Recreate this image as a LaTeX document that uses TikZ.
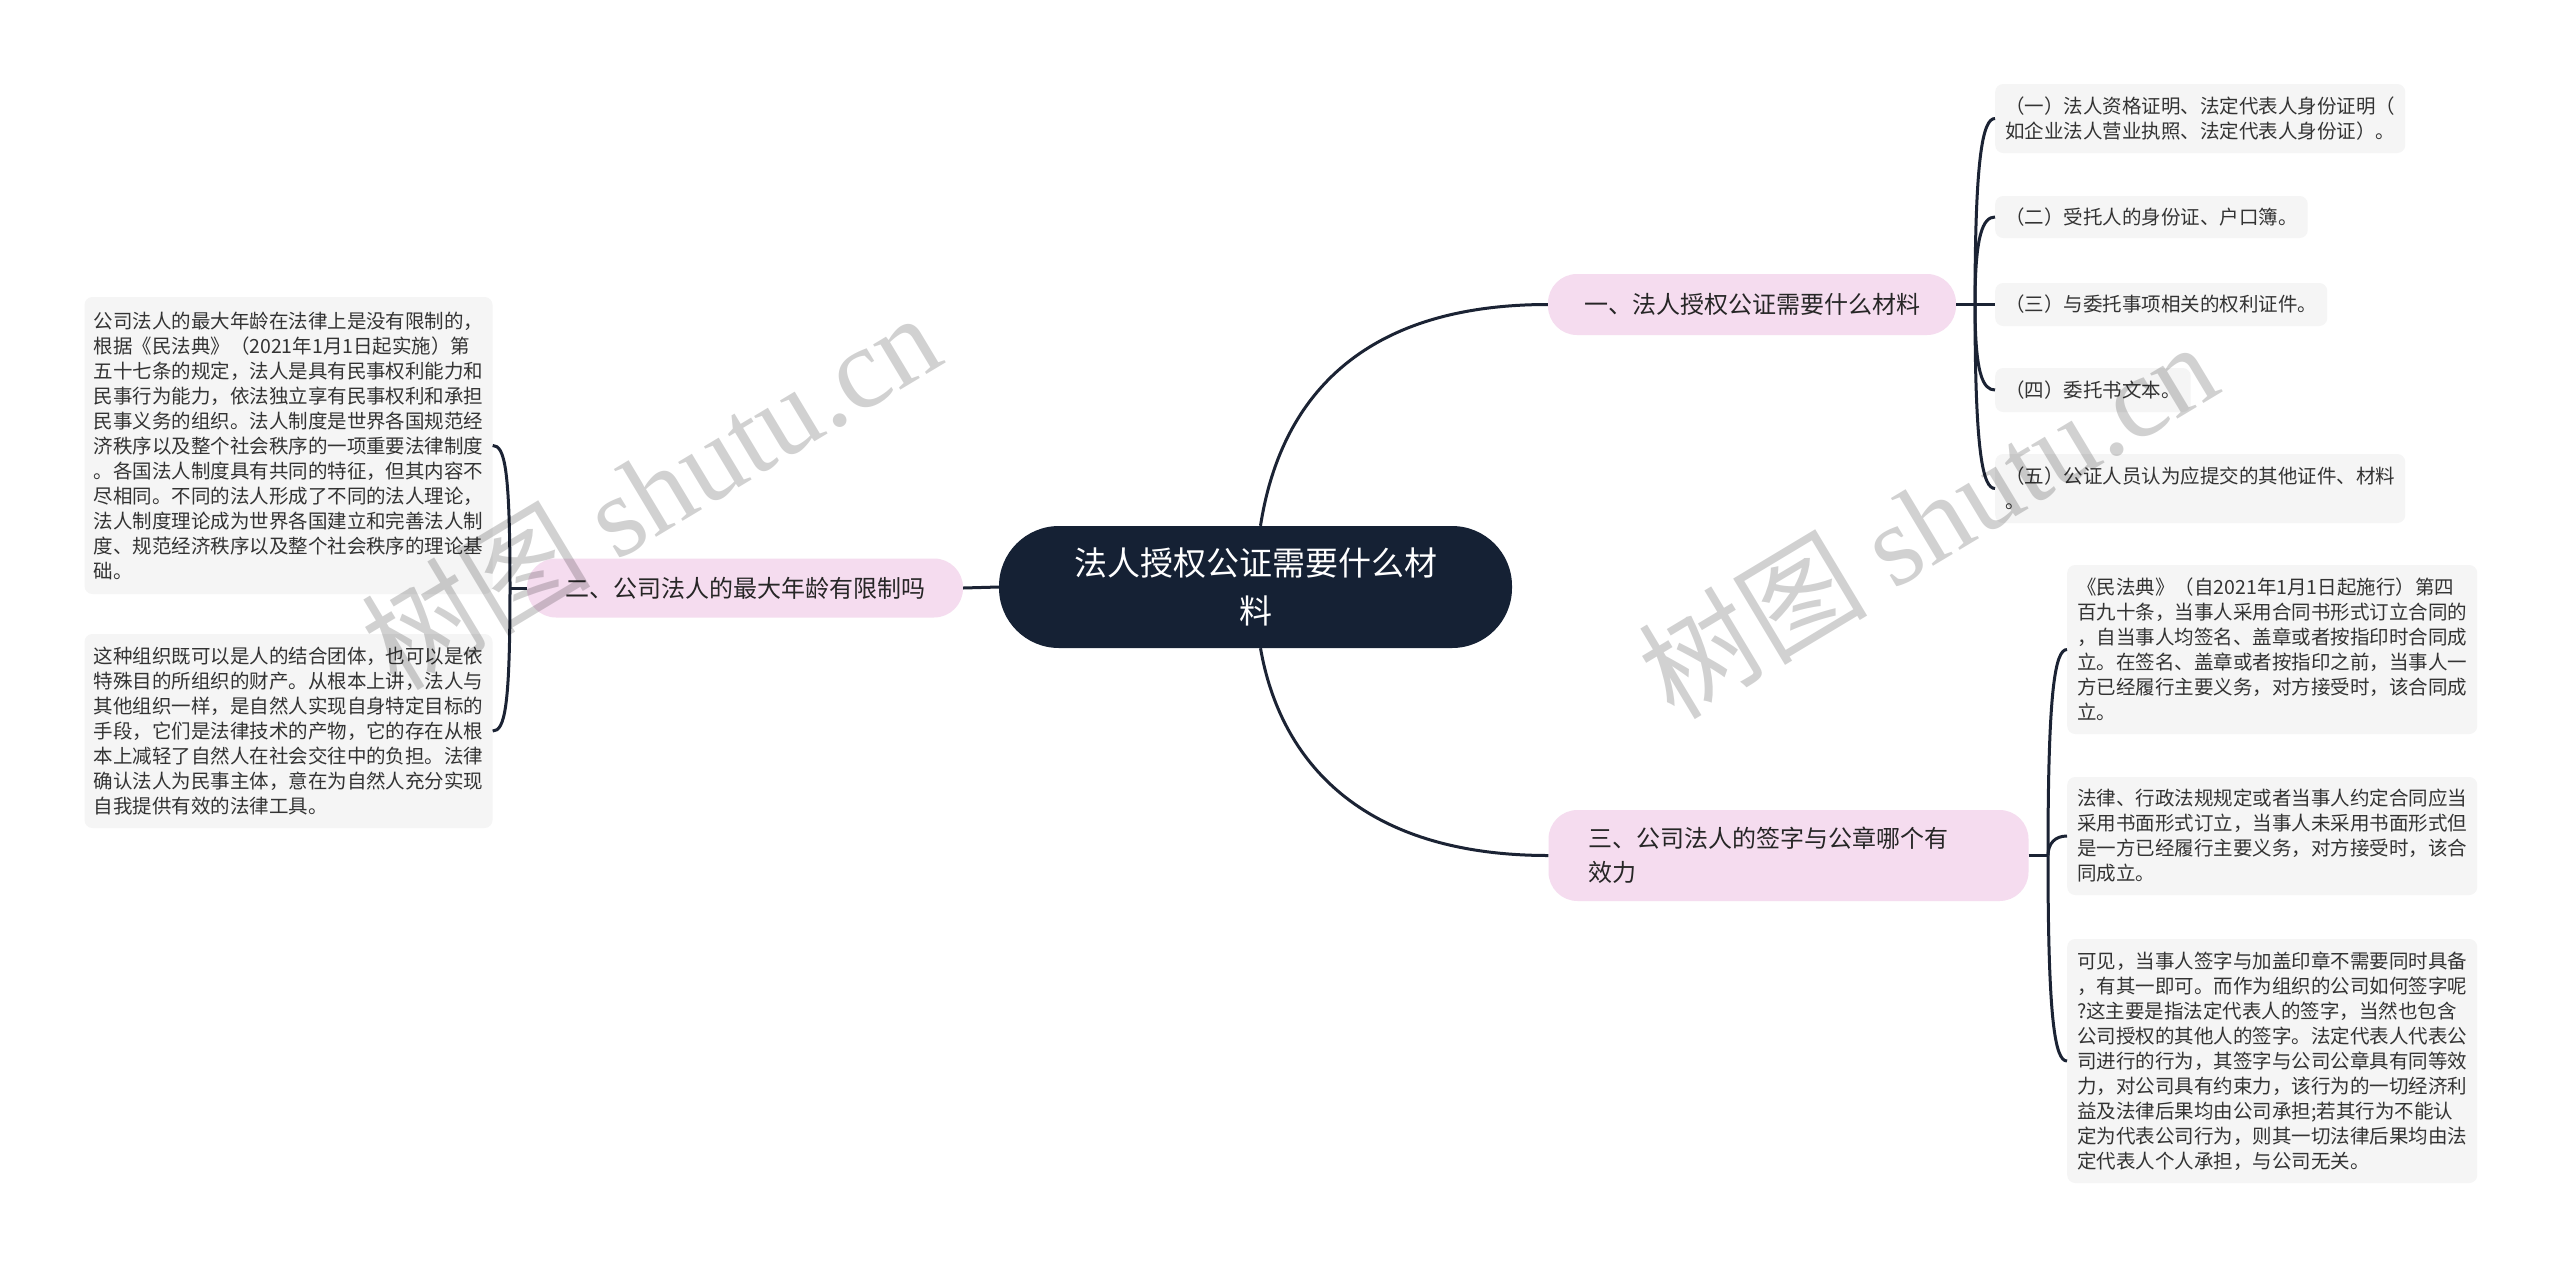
\documentclass[tikz,border=0pt]{standalone}
\usepackage{fontspec}
\setmainfont{Noto Sans CJK SC}
\newfontfamily\wmlatin{Liberation Serif}
\usetikzlibrary{calc}
\definecolor{rootfill}{HTML}{152134}
\definecolor{pinkfill}{HTML}{F5DCEF}
\definecolor{leaffill}{HTML}{F5F5F5}
\definecolor{linecol}{HTML}{1B2334}
\definecolor{txt}{HTML}{333333}
\begin{document}
\begin{tikzpicture}[x=1pt,y=-1pt,
  rootbox/.style={fill=rootfill, rounded corners=60pt, minimum width=513pt, minimum height=122pt, text=white, align=center, font=\fontsize{33}{48}\selectfont, inner sep=0pt},
  pill/.style={fill=pinkfill, rounded corners=29pt, text=black!85, font=\fontsize{24}{34}\selectfont, inner sep=0pt},
  leaf/.style={fill=leaffill, rounded corners=8pt, text=txt, align=left, font=\fontsize{19.5}{25}\selectfont, inner xsep=10pt, inner ysep=0pt},
  conn/.style={draw=linecol, line width=3pt},
  wmark/.style={rotate=31, text=black, opacity=0.18, font=\fontsize{115}{115}\selectfont, inner sep=0pt},
]
\useasboundingbox[fill=white] (0,0) rectangle (2560,1267);

% main nodes
\node[rootbox] (root) at (1255.5,587) {法人授权公证需要什么材\\料};
\node[pill, minimum width=408pt, minimum height=61pt] (b1) at (1752,304.5) {一、法人授权公证需要什么材料};
\node[pill, minimum width=436pt, minimum height=59pt] (b2) at (745,588) {二、公司法人的最大年龄有限制吗};
\node[pill, minimum height=91pt, text width=400pt, align=left, inner xsep=40pt] (b3) at (1788.5,855.5) {三、公司法人的签字与公章哪个有\\效力};

% left leaves
\node[leaf, inner xsep=9pt, minimum width=407pt, minimum height=297pt] (l1) at (288.5,445.5) {公司法人的最大年龄在法律上是没有限制的，\\根据《民法典》（2021年1月1日起实施）第\\五十七条的规定，法人是具有民事权利能力和\\民事行为能力，依法独立享有民事权利和承担\\民事义务的组织。法人制度是世界各国规范经\\济秩序以及整个社会秩序的一项重要法律制度\\。各国法人制度具有共同的特征，但其内容不\\尽相同。不同的法人形成了不同的法人理论，\\法人制度理论成为世界各国建立和完善法人制\\度、规范经济秩序以及整个社会秩序的理论基\\础。};
\node[leaf, inner xsep=9pt, minimum width=407pt, minimum height=194pt] (l2) at (288.5,731) {这种组织既可以是人的结合团体，也可以是依\\特殊目的所组织的财产。从根本上讲，法人与\\其他组织一样，是自然人实现自身特定目标的\\手段，它们是法律技术的产物，它的存在从根\\本上减轻了自然人在社会交往中的负担。法律\\确认法人为民事主体，意在为自然人充分实现\\自我提供有效的法律工具。};

% right group 1
\node[leaf, anchor=west, minimum height=69pt] (r1) at (1995,118.5) {（一）法人资格证明、法定代表人身份证明（\\如企业法人营业执照、法定代表人身份证）。};
\node[leaf, anchor=west, minimum height=42pt] (r2) at (1995,217) {（二）受托人的身份证、户口簿。};
\node[leaf, anchor=west, minimum height=43pt] (r3) at (1995,304.5) {（三）与委托事项相关的权利证件。};
\node[leaf, anchor=west, minimum height=44pt] (r4) at (1995,390) {（四）委托书文本。};
\node[leaf, anchor=west, minimum height=69pt] (r5) at (1995,488.5) {（五）公证人员认为应提交的其他证件、材料\\。};

% right group 3
\node[leaf, anchor=west, minimum height=169pt] (s1) at (2067,649.5) {《民法典》（自2021年1月1日起施行）第四\\百九十条，当事人采用合同书形式订立合同的\\，自当事人均签名、盖章或者按指印时合同成\\立。在签名、盖章或者按指印之前，当事人一\\方已经履行主要义务，对方接受时，该合同成\\立。};
\node[leaf, anchor=west, minimum height=118pt] (s2) at (2067,836) {法律、行政法规规定或者当事人约定合同应当\\采用书面形式订立，当事人未采用书面形式但\\是一方已经履行主要义务，对方接受时，该合\\同成立。};
\node[leaf, anchor=west, minimum height=244pt] (s3) at (2067,1061) {可见，当事人签字与加盖印章不需要同时具备\\，有其一即可。而作为组织的公司如何签字呢\\?这主要是指法定代表人的签字，当然也包含\\公司授权的其他人的签字。法定代表人代表公\\司进行的行为，其签字与公司公章具有同等效\\力，对公司具有约束力，该行为的一切经济利\\益及法律后果均由公司承担;若其行为不能认\\定为代表公司行为，则其一切法律后果均由法\\定代表人个人承担，与公司无关。};

% junction coordinates
\coordinate (j1) at (1975,304.5);
\coordinate (j2) at (510,588);
\coordinate (j3) at (2048,855.5);

% connectors
\begin{scope}[on background layer/.style={}]
\end{scope}
\draw[conn] ([xshift=5pt]root.north) .. controls +(19.5,-126) and +(-188,0) .. (b1.west);
\draw[conn] ([xshift=5pt]root.south) .. controls +(19.5,112) and +(-188,0) .. (b3.west);
\draw[conn] (root.west) -- (b2.east);

\draw[conn] (b2.west) -- (j2);
\draw[conn] (j2) .. controls +(0,-120) and +(12,0) .. (l1.east);
\draw[conn] (j2) .. controls +(0,120) and +(12,0) .. (l2.east);

\draw[conn] (b1.east) -- (r3.west);
\draw[conn] (j1) .. controls +(0,-150) and +(-12,0) .. (r1.west);
\draw[conn] (j1) .. controls +(0,-70) and +(-12,0) .. (r2.west);
\draw[conn] (j1) .. controls +(0,70) and +(-12,0) .. (r4.west);
\draw[conn] (j1) .. controls +(0,150) and +(-12,0) .. (r5.west);

\draw[conn] (b3.east) -- (j3);
\draw[conn] (j3) .. controls +(0,-165) and +(-12,0) .. (s1.west);
\draw[conn] (j3) .. controls +(0,-12) and +(-12,0) .. (s2.west);
\draw[conn] (j3) .. controls +(0,165) and +(-12,0) .. (s3.west);

% watermarks
\node[wmark] (wm1) at (650,490) {树图 {\wmlatin shutu.cn}};
\node[wmark] (wm2) at (1927,519) {树图 {\wmlatin shutu.cn}};
\end{tikzpicture}
\end{document}
